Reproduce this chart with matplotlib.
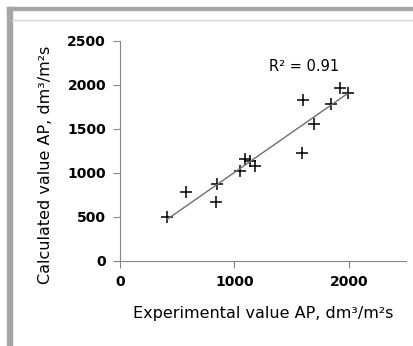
import matplotlib.pyplot as plt
import numpy as np
from matplotlib.patches import Rectangle
from matplotlib.lines import Line2D

plt.rcParams['font.family'] = ['DejaVu Sans']

experimental = [413, 574, 838, 847, 1051, 1092, 1133, 1179, 1587, 1598, 1700, 1846, 1924, 1989]
calculated = [500, 781, 674, 871, 1026, 1155, 1133, 1083, 1231, 1830, 1557, 1784, 1966, 1913]
r2_label = "R² = 0.91"

x = np.array(experimental, dtype=float)
y = np.array(calculated, dtype=float)

fig = plt.figure(figsize=(4.14, 3.46), dpi=100)
W, H = 414, 346

# page frame around the chart (screenshot borders)
fig.patches.append(Rectangle((7 / W, 1 - 10 / H), 1, 3 / H, transform=fig.transFigure,
                             color="#a6a6a6", zorder=0))
fig.patches.append(Rectangle((7 / W, 0), 5 / W, 1 - 7 / H, transform=fig.transFigure,
                             color="#a6a6a6", zorder=0))
fig.add_artist(Line2D([12 / W, 1], [1 - 20 / H, 1 - 20 / H], transform=fig.transFigure,
                      color="#d4d4d4", lw=1))

ax = fig.add_axes([120 / W, 1 - 261 / H, 286 / W, 220 / H])
ax.plot(x, y, linestyle="None", marker="+", markersize=9, markeredgewidth=1.1, color="black")

# linear trendline
k, b = np.polyfit(x, y, 1)
xs = np.array([x.min(), x.max()])
ax.plot(xs, k * xs + b, color="#6e6e6e", lw=1)

ax.text(1300, 2205, r2_label, fontsize=10.5, va="center", ha="left")

ax.set_xlim(0, 2500)
ax.set_ylim(0, 2500)
ax.set_xticks([0, 1000, 2000])
ax.set_yticks([0, 500, 1000, 1500, 2000, 2500])
for s in ["top", "right"]:
    ax.spines[s].set_visible(False)
for s in ["left", "bottom"]:
    ax.spines[s].set_color("#868686")
ax.tick_params(direction="out", length=5, color="#868686", labelsize=10, pad=5)
for lbl in ax.get_xticklabels() + ax.get_yticklabels():
    lbl.set_fontweight("bold")

ax.set_xlabel("Experimental value AP, dm³/m²s", fontsize=11.5)
ax.set_ylabel("Calculated value AP, dm³/m²s", fontsize=11.5)
ax.xaxis.set_label_coords(0.5, -0.205)
ax.yaxis.set_label_coords(-0.235, 0.436)

fig.savefig("out.png", dpi=100)
